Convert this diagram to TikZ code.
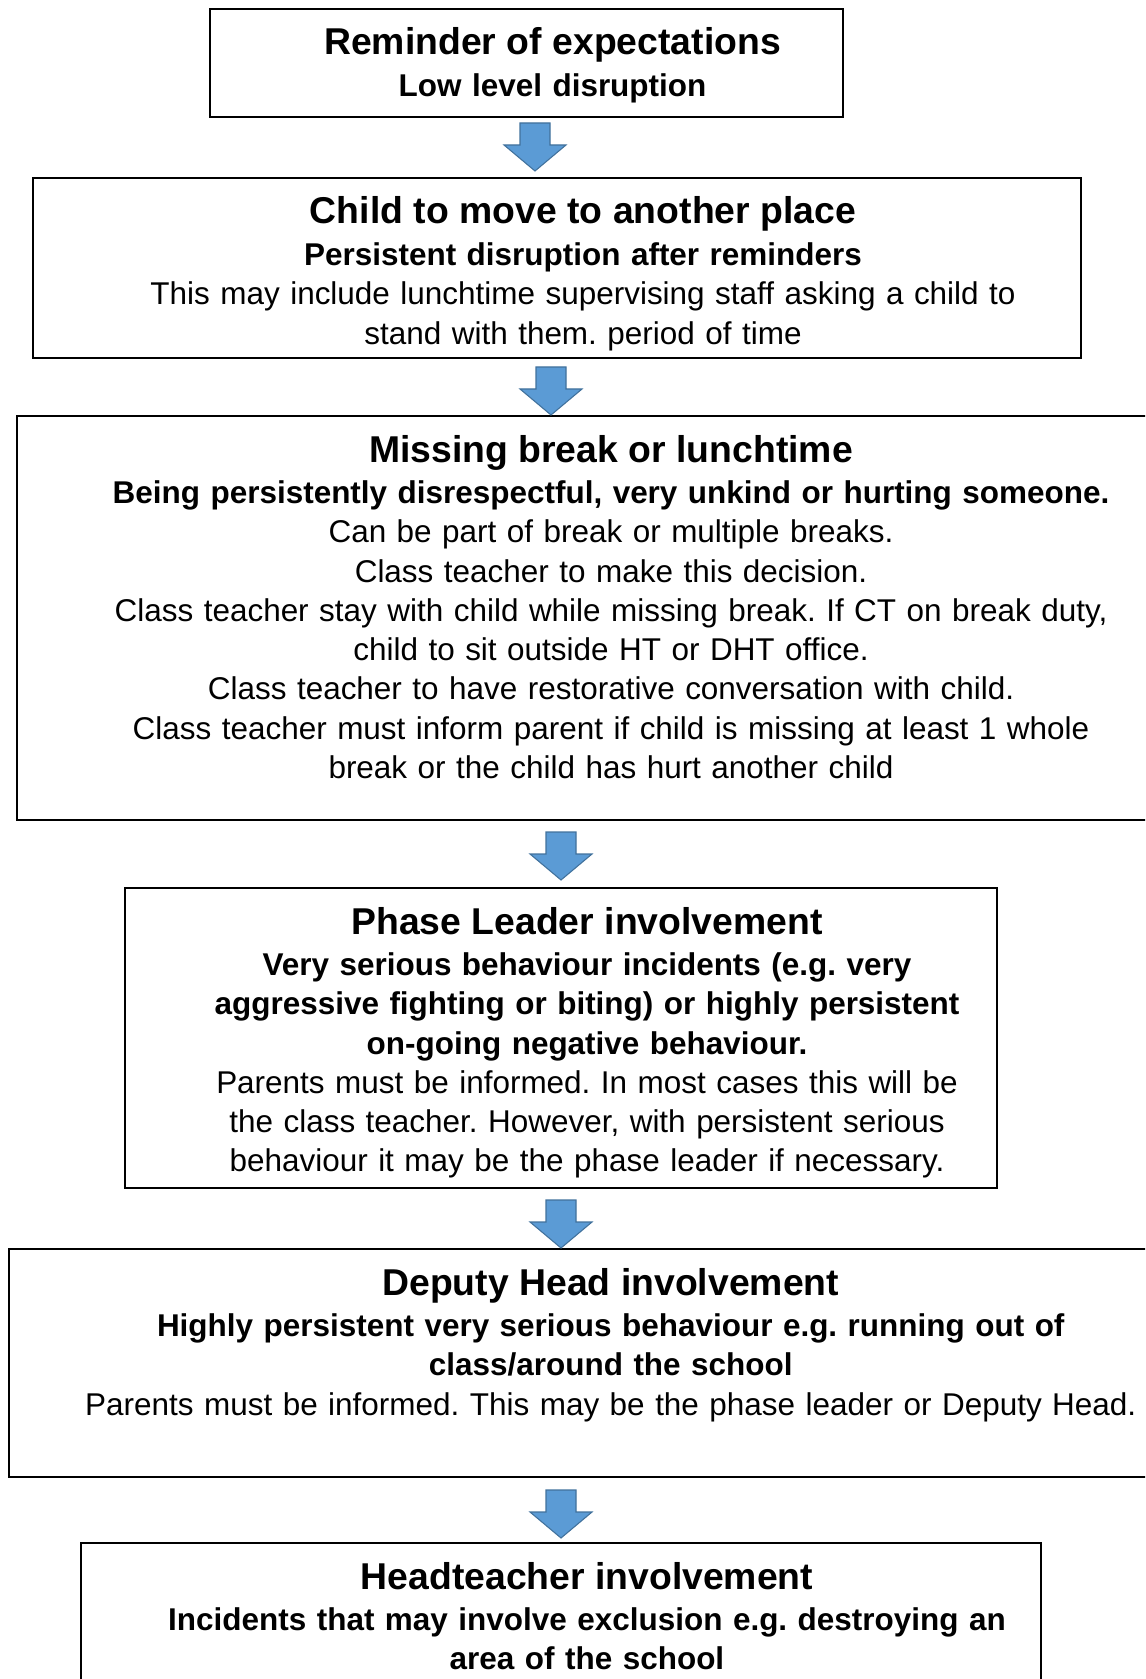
\documentclass[tikz,border=0pt]{standalone}
\usepackage{fontspec}
\setmainfont{Liberation Sans}
\usepackage{tikz}
\usetikzlibrary{positioning}
\definecolor{arrowblue}{RGB}{91,155,213}
\definecolor{arrowedge}{RGB}{65,113,156}
\newcommand{\stagehead}[1]{{\fontsize{14}{16}\selectfont\bfseries #1}\\[0.8pt]}
\tikzset{
  stage/.style={rectangle, draw=black, line width=0.75pt, fill=white, anchor=north west,
                inner sep=0pt, align=center, text height=17.25pt,
                font=\fontsize{11.8}{14.74}\selectfont,
                execute at begin node={\frenchspacing\leftskip=19.5pt plus 1fil\rightskip=0pt plus 1fil\relax}},
  downarrow/.style={fill=arrowblue, draw=arrowedge, line width=0.4pt},
}
\begin{document}
\begin{tikzpicture}[x=0.375pt, y=-0.375pt]
\path[use as bounding box] (0,0) rectangle (1145,1679);
\clip (0,0) rectangle (1145,1679);
\node[stage, text width=237.375pt, text depth=23.25pt] (remind) at (209,8)
  {\stagehead{Reminder of expectations}\textbf{Low level disruption}};
\node[stage, text width=393pt, text depth=50.25pt] (move) at (32,177)
  {\stagehead{Child to move to another place}\textbf{Persistent disruption after reminders}\\
   This may include lunchtime supervising staff asking a child to\\
   stand with them. period of time};
\node[stage, text width=426pt, text depth=134.25pt] (missing) at (16,415)
  {\stagehead{Missing break or lunchtime}\textbf{Being persistently disrespectful, very unkind or hurting someone.}\\
   Can be part of break or multiple breaks.\\
   Class teacher to make this decision.\\
   Class teacher stay with child while missing break. If CT on break duty,\\
   child to sit outside HT or DHT office.\\
   Class teacher to have restorative conversation with child.\\
   Class teacher must inform parent if child is missing at least 1 whole\\
   break or the child has hurt another child};
\node[stage, text width=327pt, text depth=95.25pt] (phase) at (124,887)
  {\stagehead{Phase Leader involvement}\textbf{Very serious behaviour incidents (e.g. very}\\
   \textbf{aggressive fighting or biting) or highly persistent}\\
   \textbf{on-going negative behaviour.}\\
   Parents must be informed. In most cases this will be\\
   the class teacher. However, with persistent serious\\
   behaviour it may be the phase leader if necessary.};
\node[stage, text width=432.2pt, text depth=68.25pt] (deputy) at (7.5,1248)
  {\stagehead{Deputy Head involvement}\textbf{Highly persistent very serious behaviour e.g. running out of}\\
   \textbf{class/around the school}\\
   Parents must be informed. This may be the phase leader or Deputy Head.};
\node[stage, text width=360pt, text depth=132.75pt] (head) at (80,1542)
  {\stagehead{Headteacher involvement}\textbf{Incidents that may involve exclusion e.g. destroying an}\\
   \textbf{area of the school}};
\foreach \b/\x/\g in {move/535/6, missing/551/0, phase/561/7, deputy/561/0, head/561/4}
  \filldraw[downarrow, shift={(\x,0 |- \b.north)}] (-15,-\g-48) -- (15,-\g-48) -- (15,-\g-26)
    -- (31,-\g-26) -- (0,-\g) -- (-31,-\g-26) -- (-15,-\g-26) -- cycle;
\end{tikzpicture}
\end{document}
